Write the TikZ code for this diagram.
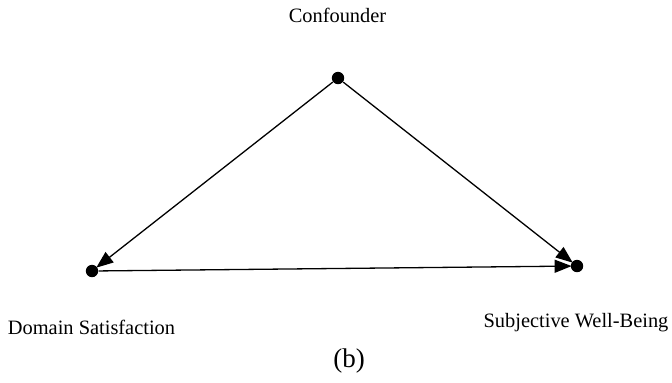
\documentclass[tikz,border=0pt]{standalone}
\usepackage{fontspec}
\setmainfont{Liberation Serif}
\usetikzlibrary{arrows.meta}

\begin{document}
\begin{tikzpicture}[x=0.5pt,y=-0.5pt,>={Triangle[length=8.5pt,width=6.5pt]}]
  % Configurable parameters
  \def\dotsize{6.2pt}       % Diameter of the variable dots
  \newcommand{\varlabels}{\fontsize{10.2pt}{12pt}\selectfont}
  \newcommand{\panellabel}{\fontsize{13.5pt}{16pt}\selectfont}
  \tikzset{dot/.style={circle,fill=black,inner sep=0pt,minimum size=\dotsize},
    causal/.style={line width=0.65pt,->,shorten >=-0.6pt}}
  %
  \useasboundingbox (0,0) rectangle (672,382);
  %
  % Variables
  \node[dot] (conf) at (338,78) {};
  \node[dot] (dom) at (92,271) {};
  \node[dot] (swb) at (577,266) {};
  %
  % Labels
  \node (conflabel) at (337.5,15) {\varlabels Confounder};
  \node (domlabel) at (91.5,327) {\varlabels Domain Satisfaction};
  \node (swblabel) at (576,323) {\varlabels Subjective Well-Being};
  \node (panel) at (349,361) {\panellabel (b)};
  %
  % Causal arrows
  \draw[causal] (conf) -- (dom);
  \draw[causal] (conf) -- (swb);
  \draw[causal] (dom) -- (swb);
  %
\end{tikzpicture}
\end{document}
